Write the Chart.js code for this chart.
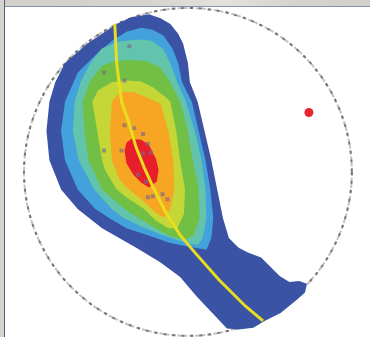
<!DOCTYPE html>
<html>
<head>
<meta charset="utf-8">
<script src="https://cdn.jsdelivr.net/npm/chart.js@4.4.1/dist/chart.umd.min.js"></script>
<style>
  body { margin: 0; background: #fff; }
  #wrap { position: relative; width: 370px; height: 337px; overflow: hidden; }
  #topbar { position: absolute; left: 0; top: 0; width: 370px; height: 6px;
    background: linear-gradient(90deg, #d3d0ca 0%, #d6d3ce 40%, #e4e2de 60%, #d6d3ce 80%, #d3d0ca 100%);
    border-bottom: 1px solid #8593b0; z-index: 2; }
  #leftbar { position: absolute; left: 0; top: 0; width: 4px; height: 337px;
    background: #d6d3ce; border-right: 1px solid #4f607e; z-index: 2; }
</style>
</head>
<body>
<div id="wrap">
  <div id="topbar"></div>
  <div id="leftbar"></div>
  <canvas id="myChart" width="370" height="337"></canvas>
</div>
<script>
// stereonet units: origin = net centre, primitive circle radius R
const R = 168;

// density contours, outer to inner (x, y)
const contour1 = [[-40,162],[-28,158],[-18,152],[-10,142],[-5,132],[0,112],[2,92],[10,72],[17,42],[24,12],[30,-18],[36,-48],[42,-68],[52,-78],[62,-83],[75,-88],[85,-98],[94,-107],[104,-113],[114,-112],[122,-115],[120,-124],[112,-131],[95,-145],[79,-153],[67,-160],[52,-162],[40,-161],[25,-145],[9,-128],[-8,-108],[-28,-93],[-53,-78],[-88,-58],[-113,-38],[-130,-18],[-142,12],[-145,42],[-142,72],[-136,92],[-126,112],[-103,132],[-73,152],[-58,159]];
const contour2 = [[-48,148],[-36,146],[-25,140],[-16,127],[-10,112],[-6,92],[4,72],[11,42],[18,12],[23,-18],[26,-48],[24,-68],[19,-80],[7,-78],[-18,-73],[-38,-66],[-63,-58],[-80,-48],[-95,-38],[-113,-18],[-126,12],[-130,42],[-126,72],[-113,102],[-93,122],[-76,136],[-63,144]];
const contour3 = [[-53,136],[-38,135],[-26,127],[-18,112],[-11,92],[-2,72],[7,42],[14,12],[18,-18],[19,-48],[15,-68],[10,-75],[-8,-71],[-28,-64],[-48,-56],[-68,-46],[-78,-38],[-96,-18],[-112,12],[-118,42],[-116,72],[-110,92],[-100,112],[-88,127],[-70,134]];
const contour4 = [[-60,115],[-43,114],[-28,107],[-18,92],[-8,72],[0,42],[5,12],[11,-18],[12,-48],[6,-65],[-3,-70],[-18,-66],[-33,-58],[-50,-48],[-65,-38],[-88,-18],[-102,12],[-106,42],[-108,72],[-100,94],[-88,109],[-75,114]];
const contour5 = [[-63,94],[-48,93],[-36,87],[-23,77],[-18,72],[-12,42],[-8,12],[-3,-18],[-4,-43],[-11,-58],[-20,-58],[-33,-50],[-45,-38],[-63,-26],[-73,-18],[-85,2],[-88,12],[-93,42],[-98,72],[-92,84],[-78,92]];
const contour6 = [[-70,82],[-56,82],[-43,77],[-28,70],[-20,42],[-15,12],[-14,-18],[-18,-38],[-25,-47],[-33,-42],[-48,-28],[-63,-16],[-70,-8],[-78,12],[-80,42],[-78,72]];
const contour7 = [[-58,34],[-48,33],[-40,28],[-33,14],[-30,2],[-32,-10],[-40,-16],[-48,-11],[-56,-3],[-63,9],[-65,22],[-63,30]];
const contourColors = ['#3a53a4', '#43a1db', '#62c4ad', '#72bf45', '#c5d737', '#f6a623', '#e81f2b'];

// great circle trace
const greatCircle = [[-75,152],[-73,112],[-71,95],[-68,72],[-61,52],[-53,25],[-45,5],[-36,-15],[-23,-41],[-8,-65],[9,-85],[32,-111],[59,-138],[77,-153]];

// poles
const poles = [[-65,48],[-55,45],[-46,39],[-41,29],[-68,22],[-86,22],[-46,19],[-38,20],[-51,-3],[-43,-10],[-41,-26],[-36,-25],[-26,-23],[-21,-28],[-60,129],[-86,102],[-65,94]];
const meanPole = [[124,61]];

const toXY = arr => arr.map(p => ({ x: p[0], y: p[1] }));

const contours = [contour1, contour2, contour3, contour4, contour5, contour6, contour7];
const contourSets = contours.map((c, i) => ({
    data: toXY(c),
    showLine: true,
    fill: 'shape',
    backgroundColor: contourColors[i],
    borderColor: contourColors[i],
    borderWidth: 0,
    pointRadius: 0
})).reverse(); // innermost first = drawn on top

const netCircle = {
    id: 'netCircle',
    beforeDatasetsDraw(chart) {
        const { ctx, scales } = chart;
        const cx = scales.x.getPixelForValue(0);
        const cy = scales.y.getPixelForValue(0);
        const r = scales.x.getPixelForValue(R) - cx;
        ctx.save();
        ctx.lineWidth = 2;
        ctx.strokeStyle = 'rgba(180,180,180,0.8)';
        ctx.setLineDash([4, 2]);
        ctx.beginPath();
        ctx.arc(cx, cy, r, 0, Math.PI * 2);
        ctx.stroke();
        ctx.strokeStyle = 'rgba(100,100,100,0.85)';
        ctx.setLineDash([3, 6]);
        ctx.beginPath();
        ctx.arc(cx, cy, r, 0, Math.PI * 2);
        ctx.stroke();
        ctx.restore();
    }
};

const ctx = document.getElementById('myChart').getContext('2d');
new Chart(ctx, {
    type: 'scatter',
    data: {
        datasets: [
            {
                data: toXY(meanPole),
                pointStyle: 'circle',
                pointRadius: 4.5,
                backgroundColor: '#e8262e',
                borderWidth: 0
            },
            {
                data: toXY(poles),
                pointStyle: 'rect',
                pointRadius: 2.8,
                backgroundColor: 'rgba(125,105,135,0.65)',
                borderWidth: 0
            },
            {
                data: toXY(greatCircle),
                showLine: true,
                borderColor: '#e9dd1f',
                borderWidth: 3,
                pointRadius: 0,
                fill: false
            },
            ...contourSets
        ]
    },
    options: {
        responsive: false,
        animation: false,
        layout: { padding: 0 },
        plugins: { legend: { display: false }, tooltip: { enabled: false } },
        scales: {
            x: { type: 'linear', min: -188, max: 182, display: false },
            y: { type: 'linear', min: -165, max: 172, display: false }
        }
    },
    plugins: [netCircle]
});
</script>
</body>
</html>
